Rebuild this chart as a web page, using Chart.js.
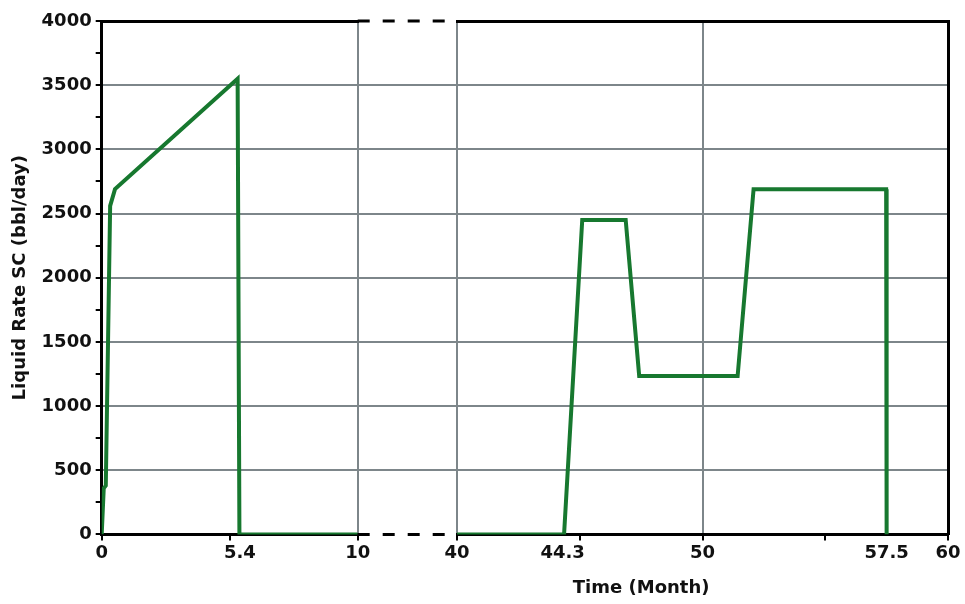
<!DOCTYPE html>
<html>
<head>
<meta charset="utf-8">
<script src="https://cdn.jsdelivr.net/npm/chart.js@4.4.1/dist/chart.umd.min.js"></script>
<style>
  html, body { margin: 0; padding: 0; background: #fff; }
  #wrap { width: 965px; height: 604px; }
</style>
</head>
<body>
<div id="wrap"><canvas id="chart"></canvas></div>
<script>
// first producing period, months 0-10
const earlyMonths = [0, 0.08, 0.16, 0.33, 0.52, 5.31, 5.38, 10];
const earlyRates  = [0, 360, 380, 2560, 2690, 3550, 0, 0];
// second producing period, months 40-60
const lateMonths = [40, 44.36, 45.1, 46.87, 47.42, 51.43, 52.08, 57.48, 57.5];
const lateRates  = [0, 0, 2450, 2450, 1235, 1235, 2690, 2690, 0];
// axis break between month 10 and month 40 (dashed frame)
const gapMonths = [10, 40];
const gapBottom = [0, 0];
const gapTop = [4000, 4000];

// tick positions and which of them carry labels / tick marks / grid lines
const earlyTicks  = [0, 5, 5.4, 10];
const earlyLabels = [0, 5.4, 10];
const earlyMarks  = [0, 5, 10];
const earlyGrid   = [10];
const lateTicks   = [40, 44.3, 45, 50, 55, 57.5, 60];
const lateLabels  = [40, 44.3, 50, 57.5, 60];
const lateMarks   = [40, 45, 50, 55, 60];
const lateGrid    = [40, 50];
const rateMax = 4000;
const rateStep = 250;
const rateLabelStep = 500;

const GREEN = '#17782f';
const GRID = '#7d868a';
const solidBorder = { color: '#000', width: 3 };

Chart.defaults.font.family = '"DejaVu Sans", sans-serif';
Chart.defaults.font.size = 18;
Chart.defaults.font.weight = 'bold';
Chart.defaults.color = '#111';

function panelAxis(pos, stack, weight, min, max, ticks, labels, marks, grid) {
  return {
    type: 'linear', position: pos, stack: stack, stackWeight: weight,
    min: min, max: max,
    afterBuildTicks: s => { s.ticks = ticks.map(value => ({ value })); },
    ticks: {
      display: pos === 'bottom', autoSkip: false, maxRotation: 0, padding: 2,
      callback: v => labels.includes(v) ? String(v) : ''
    },
    grid: {
      display: pos === 'bottom',
      drawTicks: pos === 'bottom',
      color: c => c.tick && grid.includes(c.tick.value) ? GRID : 'rgba(0,0,0,0)',
      lineWidth: 2,
      tickColor: c => c.tick && marks.includes(c.tick.value) ? '#000' : 'rgba(0,0,0,0)',
      tickLength: 6, tickWidth: 2
    },
    border: solidBorder
  };
}

function gapAxis(pos, stack, weight) {
  return {
    type: 'linear', position: pos, stack: stack, stackWeight: weight,
    min: gapMonths[0], max: gapMonths[1],
    ticks: { display: false },
    grid: { display: false, drawTicks: false },
    border: { display: false }
  };
}

const xTitle = {
  id: 'xTitle',
  afterDraw(chart) {
    const { ctx, chartArea } = chart;
    const xR = chart.scales.xR;
    ctx.save();
    ctx.font = 'bold 18px "DejaVu Sans"';
    ctx.fillStyle = '#111';
    ctx.textAlign = 'center';
    ctx.textBaseline = 'middle';
    ctx.fillText('Time (Month)', xR.left + xR.width * 0.375, chartArea.bottom + 54);
    ctx.restore();
  }
};

const dashed = {
  xAxisID: 'xG', yAxisID: 'y',
  borderColor: '#000', borderWidth: 3, borderDash: [12, 13],
  pointRadius: 0, tension: 0, clip: false
};

new Chart(document.getElementById('chart'), {
  type: 'line',
  data: {
    datasets: [
      {
        data: earlyMonths.map((m, i) => ({ x: m, y: earlyRates[i] })),
        xAxisID: 'xL', yAxisID: 'y',
        borderColor: GREEN, borderWidth: 4, pointRadius: 0, tension: 0
      },
      {
        data: lateMonths.map((m, i) => ({ x: m, y: lateRates[i] })),
        xAxisID: 'xR', yAxisID: 'y',
        borderColor: GREEN, borderWidth: 4, pointRadius: 0, tension: 0
      },
      Object.assign({ data: gapMonths.map((m, i) => ({ x: m, y: gapBottom[i] })) }, dashed),
      Object.assign({ data: gapMonths.map((m, i) => ({ x: m, y: gapTop[i] })) }, dashed)
    ]
  },
  options: {
    responsive: true,
    maintainAspectRatio: false,
    animation: false,
    layout: { padding: { top: 21, right: 17, bottom: 38, left: 10 } },
    plugins: { legend: { display: false }, tooltip: { enabled: false } },
    scales: {
      y: {
        min: 0, max: rateMax, position: 'left',
        ticks: {
          stepSize: rateStep, padding: 4,
          callback: v => v % rateLabelStep === 0 ? String(v) : ''
        },
        grid: {
          color: c => (c.tick && c.tick.value % rateLabelStep === 0 && c.tick.value > 0 && c.tick.value < rateMax) ? GRID : 'rgba(0,0,0,0)',
          lineWidth: 2, tickColor: '#000', tickLength: 6, tickWidth: 2
        },
        border: solidBorder,
        title: { display: true, text: 'Liquid Rate SC (bbl/day)', padding: { top: 0, bottom: 6 } }
      },
      yRight: {
        min: 0, max: rateMax, position: 'right',
        ticks: { display: false },
        grid: { display: false, drawTicks: false },
        border: solidBorder
      },
      xL: panelAxis('bottom', 'bottom', 255.6, 0, 10, earlyTicks, earlyLabels, earlyMarks, earlyGrid),
      xG: gapAxis('bottom', 'bottom', 99.2),
      xR: panelAxis('bottom', 'bottom', 490.2, 40, 60, lateTicks, lateLabels, lateMarks, lateGrid),
      // top frame: Chart.js lays out top boxes in reverse order
      xRTop: panelAxis('top', 'top', 490.2, 40, 60, lateTicks, lateLabels, lateMarks, lateGrid),
      xGTop: gapAxis('top', 'top', 99.2),
      xLTop: panelAxis('top', 'top', 255.6, 0, 10, earlyTicks, earlyLabels, earlyMarks, earlyGrid)
    }
  },
  plugins: [xTitle]
});
</script>
</body>
</html>
